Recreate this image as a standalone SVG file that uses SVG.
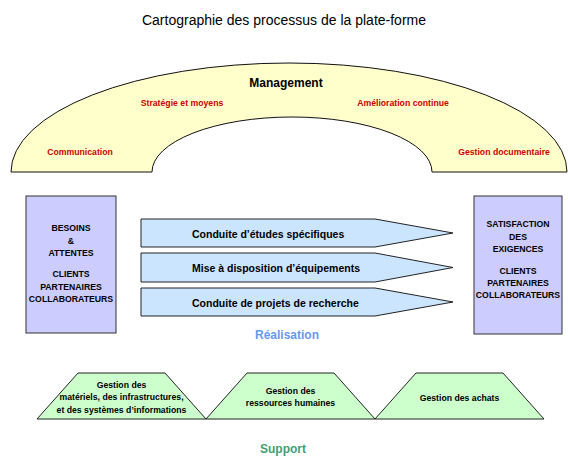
<svg xmlns="http://www.w3.org/2000/svg" width="568" height="459" viewBox="0 0 568 459">
<style>
text{font-family:"Liberation Sans",Arial,sans-serif;font-weight:bold;text-anchor:middle}
.title{font-size:14px;font-weight:normal;fill:#000}
.mgmt{font-size:12px;fill:#000}
.red{font-size:8.7px;fill:#cc0000}
.box{fill:#ccccff;stroke:#333;stroke-width:1}
.btxt{font-size:8.7px;fill:#000}
.arr{fill:#cce5ff;stroke:#222;stroke-width:1}
.atxt{font-size:10.5px;fill:#000;text-anchor:start}
.sup{fill:#ccffcc;stroke:#222;stroke-width:1}
.stxt{font-size:8.7px;fill:#000}
</style>
<rect width="568" height="459" fill="#fff"/>
<text class="title" x="284" y="25">Cartographie des processus de la plate-forme</text>
<g id="management">
<path d="M11,172 A278,109 0 0 1 567,172 L432,172 A140,55 0 0 0 152,172 Z" fill="#ffffcc" stroke="#111" stroke-width="1"/>
<text class="mgmt" x="286" y="87">Management</text>
<text class="red" x="182" y="106">Stratégie et moyens</text>
<text class="red" x="403" y="106">Amélioration continue</text>
<text class="red" x="80" y="155">Communication</text>
<text class="red" x="504" y="155">Gestion documentaire</text>
</g>
<g id="besoins">
<rect class="box" x="26" y="196" width="90" height="137"/>
<text class="btxt" x="71" y="231">BESOINS</text>
<text class="btxt" x="71" y="244">&amp;</text>
<text class="btxt" x="71" y="256">ATTENTES</text>
<text class="btxt" x="71" y="277">CLIENTS</text>
<text class="btxt" x="71" y="290">PARTENAIRES</text>
<text class="btxt" x="71" y="302">COLLABORATEURS</text>
</g>
<g id="satisfaction">
<rect class="box" x="474" y="196" width="88" height="138"/>
<text class="btxt" x="518" y="227">SATISFACTION</text>
<text class="btxt" x="518" y="240">DES</text>
<text class="btxt" x="518" y="251.5">EXIGENCES</text>
<text class="btxt" x="518" y="274">CLIENTS</text>
<text class="btxt" x="518" y="286">PARTENAIRES</text>
<text class="btxt" x="518" y="298">COLLABORATEURS</text>
</g>
<g id="etudes">
<polygon class="arr" points="141,219 375,219 453,233 375,247 141,247"/>
<text class="atxt" x="192" y="238">Conduite d’études spécifiques</text>
</g>
<g id="equipements">
<polygon class="arr" points="141,253 375,253 453,267.5 375,282 141,282"/>
<text class="atxt" x="192" y="272">Mise à disposition d’équipements</text>
</g>
<g id="recherche">
<polygon class="arr" points="141,288 375,288 453,302 375,316 141,316"/>
<text class="atxt" x="192" y="306.5">Conduite de projets de recherche</text>
</g>
<g id="realisation">
<text x="287" y="339" style="font-size:12px;fill:#6699ee">Réalisation</text>
</g>
<g id="materiels">
<polygon class="sup" points="37,419 78,373 165,373 206,419"/>
<text class="stxt" x="121.5" y="388">Gestion des</text>
<text class="stxt" x="121.5" y="400">matériels, des infrastructures,</text>
<text class="stxt" x="121.5" y="413">et des systèmes d’informations</text>
</g>
<g id="rh">
<polygon class="sup" points="206,419 247,373 334,373 375,419"/>
<text class="stxt" x="290.5" y="394">Gestion des</text>
<text class="stxt" x="290.5" y="406">ressources humaines</text>
</g>
<g id="achats">
<polygon class="sup" points="375,419 416,373 503,373 544,419"/>
<text class="stxt" x="459.5" y="401">Gestion des achats</text>
</g>
<g id="support">
<text x="283" y="453" style="font-size:12px;fill:#3f9f6f">Support</text>
</g>
</svg>
